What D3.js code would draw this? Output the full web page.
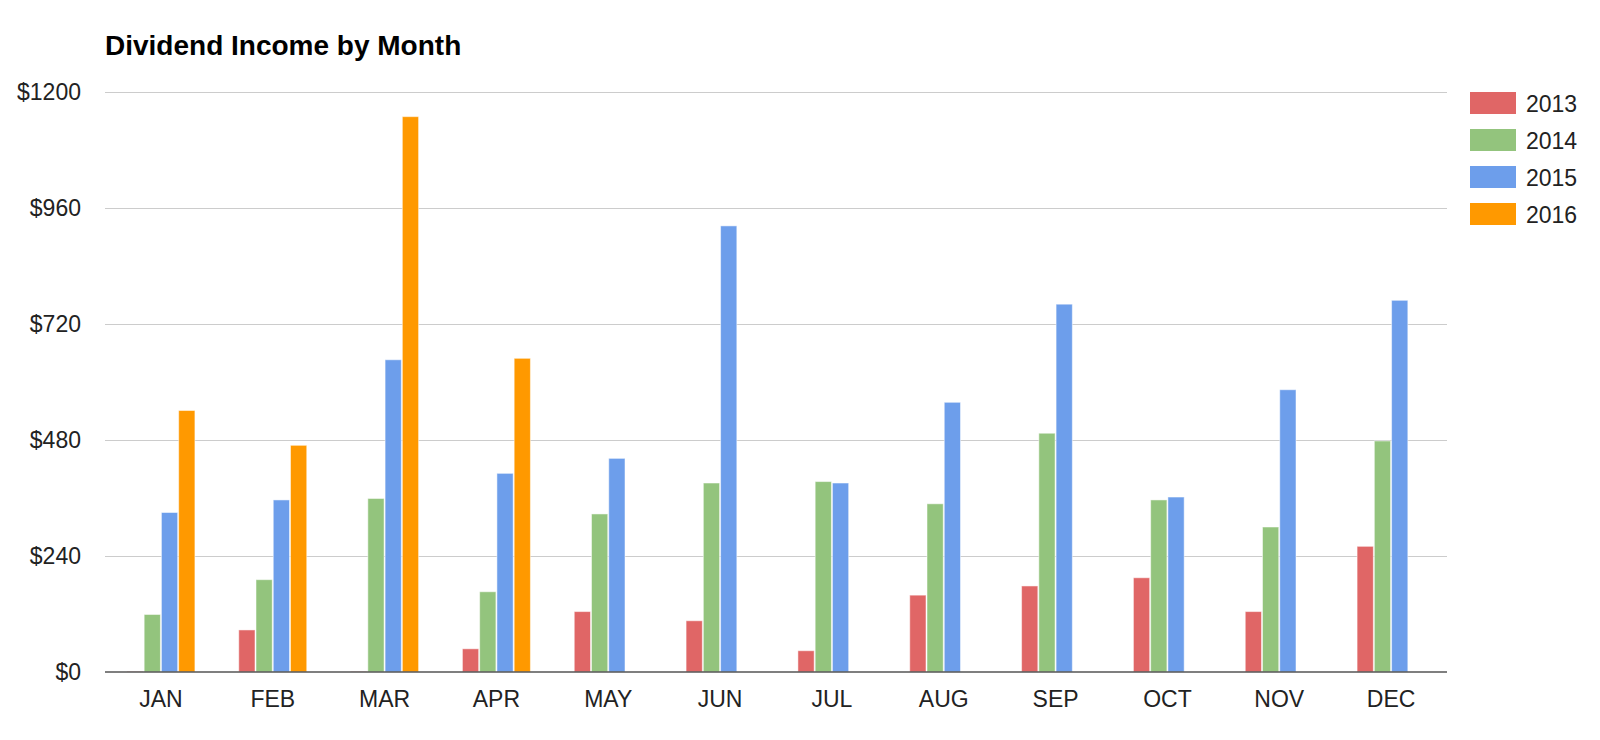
<!DOCTYPE html>
<html>
<head>
<meta charset="utf-8">
<script src="https://cdn.jsdelivr.net/npm/d3@7"></script>
<style>
  html, body { margin: 0; padding: 0; background: #fff; }
  svg { display: block; font-family: Arial, "Liberation Sans", sans-serif; }
</style>
</head>
<body>
<svg id="chart" width="1600" height="740"></svg>
<script>
const months = ["JAN","FEB","MAR","APR","MAY","JUN","JUL","AUG","SEP","OCT","NOV","DEC"];
const seriesNames = ["2013","2014","2015","2016"];
const values2013 = [1, 87, 1, 48, 125, 106, 44, 159, 178, 195, 125, 260];
const values2014 = [119, 191, 359, 166, 327, 391, 394, 348, 494, 356, 300, 478];
const values2015 = [330, 356, 646, 411, 442, 923, 391, 558, 761, 362, 584, 769];
const values2016 = [541, 469, 1149, 649, 0, 0, 0, 0, 0, 0, 0, 0];
const colors = ["#e06666", "#93c47d", "#6d9eeb", "#ff9900"];
const yTicks = [0, 240, 480, 720, 960, 1200];

const allSeries = [values2013, values2014, values2015, values2016];

const svg = d3.select("#chart");
const plotLeft = 105, plotRight = 1447, plotTop = 92, plotBottom = 672;

const x0 = d3.scaleBand().domain(months).range([plotLeft, plotRight]).paddingInner(0.383).paddingOuter(0.1915);
const x1 = d3.scaleBand().domain(seriesNames).range([0, x0.bandwidth()]);
const y = d3.scaleLinear().domain([0, 1200]).range([plotBottom, plotTop]);

// title
svg.append("text")
  .attr("x", plotLeft).attr("y", 55)
  .attr("font-size", 28).attr("font-weight", "bold").attr("fill", "#000")
  .text("Dividend Income by Month");

// gridlines
svg.append("g").selectAll("line").data(yTicks.filter(d => d > 0)).join("line")
  .attr("x1", plotLeft).attr("x2", plotRight)
  .attr("y1", d => Math.round(y(d)) + 0.5).attr("y2", d => Math.round(y(d)) + 0.5)
  .attr("stroke", "#cccccc").attr("stroke-width", 1);

// y axis labels
const yAxis = d3.axisLeft(y).tickValues(yTicks).tickSize(0).tickPadding(0).tickFormat(d => "$" + d);
const yg = svg.append("g").attr("transform", `translate(81,0)`).call(yAxis);
yg.select(".domain").remove();
yg.selectAll("text").attr("font-size", 23).attr("fill", "#222").attr("font-family", "Arial, 'Liberation Sans', sans-serif").attr("dy", "0.34em");

// bars
const groups = svg.append("g").selectAll("g").data(months).join("g")
  .attr("transform", d => `translate(${x0(d)},0)`);
groups.selectAll("rect")
  .data((m, i) => seriesNames.map((s, k) => ({ s, k, v: allSeries[k][i] })).filter(d => d.v > 0))
  .join("rect")
  .attr("x", d => x1(d.s) + 0.5)
  .attr("width", x1.bandwidth() - 1)
  .attr("y", d => y(d.v))
  .attr("height", d => y(0) - y(d.v))
  .attr("fill", d => colors[d.k])
  .attr("stroke", "#ffffff").attr("stroke-opacity", 0.5).attr("stroke-width", 1);

// baseline axis
const xAxis = d3.axisBottom(x0).tickSize(0).tickPadding(0);
const xg = svg.append("g").attr("transform", `translate(0,${plotBottom})`).call(xAxis);
xg.select(".domain").attr("stroke", "#555").attr("stroke-width", 1.5).attr("d", `M${plotLeft},0H${plotRight}`);
xg.selectAll("text").attr("font-size", 23).attr("fill", "#222").attr("font-family", "Arial, 'Liberation Sans', sans-serif").attr("dy", 0).attr("y", 35);

// legend
const legend = svg.append("g").selectAll("g").data(seriesNames).join("g")
  .attr("transform", (d, i) => `translate(1470,${92 + i * 37})`);
legend.append("rect").attr("width", 46).attr("height", 22).attr("fill", (d, i) => colors[i]);
legend.append("text").attr("x", 56).attr("y", 19.5).attr("font-size", 23).attr("fill", "#222").text(d => d);
</script>
</body>
</html>
